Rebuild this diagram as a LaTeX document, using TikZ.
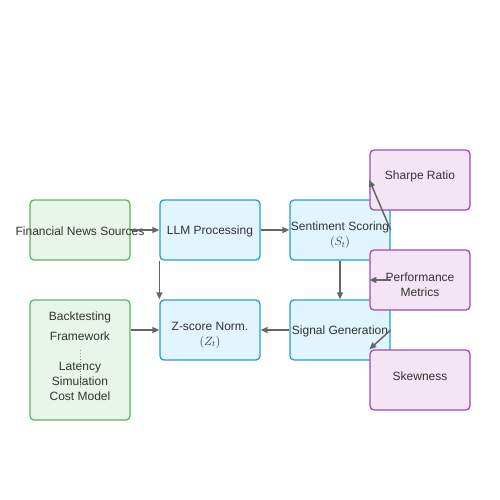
\documentclass[tikz,border=0pt]{standalone}
\usepackage{fontspec}
\setmainfont{Liberation Sans}
\usepackage{amsmath}
\usetikzlibrary{arrows.meta}
\definecolor{txt}{HTML}{333333}
\definecolor{arr}{HTML}{666666}
\definecolor{grnline}{HTML}{5CB85C}
\definecolor{grnfill}{HTML}{E8F5E9}
\definecolor{bluline}{HTML}{2A9BD8}
\definecolor{blufill}{HTML}{E1F5FE}
\definecolor{purline}{HTML}{A048BC}
\definecolor{purfill}{HTML}{F3E5F5}

\begin{document}
\begin{tikzpicture}[x=1pt,y=-1pt,
  every node/.style={font=\fontsize{12}{15}\selectfont, text=txt},
  box/.style={draw, rounded corners=4pt, line width=1.3pt, minimum width=100pt,
    minimum height=60pt, inner sep=0pt, align=center},
  source/.style={box, draw=grnline, fill=grnfill},
  stage/.style={box, draw=bluline, fill=blufill},
  metric/.style={box, draw=purline, fill=purfill},
  link/.style={-{Triangle[length=7pt,width=6pt]}, draw=arr, line width=1.5pt}]
  \useasboundingbox (0,0) rectangle (500,500);
  % inputs
  \node[source, label={[yshift=-1pt]center:\makebox[0pt]{Financial News Sources}}] (news) at (80,230) {};
  \node[source, minimum height=120pt] (back) at (80,360) {};
  \node[font=\fontsize{12}{20}\selectfont, align=center] (backtitle) at (80,326) {Backtesting\\Framework};
  \node[align=center] (backcost) at (80,381) {Latency\\Simulation\\Cost Model};
  \draw[arr!70, line width=1pt, dotted] (80,350) -- (80,388);
  % pipeline
  \node[stage, label={[yshift=-1pt]center:LLM Processing}] (llm) at (210,230) {};
  \node[stage, label={[align=center, yshift=-5pt]center:Z-score Norm.\\$(Z_t)$}] (zs) at (210,330) {};
  \node[stage, label={[align=center, yshift=-5.5pt]center:\makebox[0pt]{Sentiment Scoring}\\$(S_t)$}] (sent) at (340,230) {};
  \node[stage, label={[yshift=-1pt]center:\makebox[0pt]{Signal Generation}}] (sig) at (340,330) {};
  % metrics
  \node[metric, label={[yshift=4pt]center:Sharpe Ratio}] (sharpe) at (420,180) {};
  \node[metric, label={[align=center, yshift=-5pt]center:Performance\\Metrics}] (perf) at (420,280) {};
  \node[metric, label={[yshift=4pt]center:Skewness}] (skew) at (420,380) {};
  \path[every edge/.style={link}]
    (news) edge (llm)
    (llm) edge (sent)
    (llm.south west) edge (zs.north west)
    (sent) edge (sig)
    (sig) edge (zs)
    (back.east |- zs.west) edge (zs.west)
    (sent.east) edge (sharpe.west)
    (sent.east |- perf.west) edge (perf.west)
    (sig.east) edge (skew.north west);
\end{tikzpicture}
\end{document}
